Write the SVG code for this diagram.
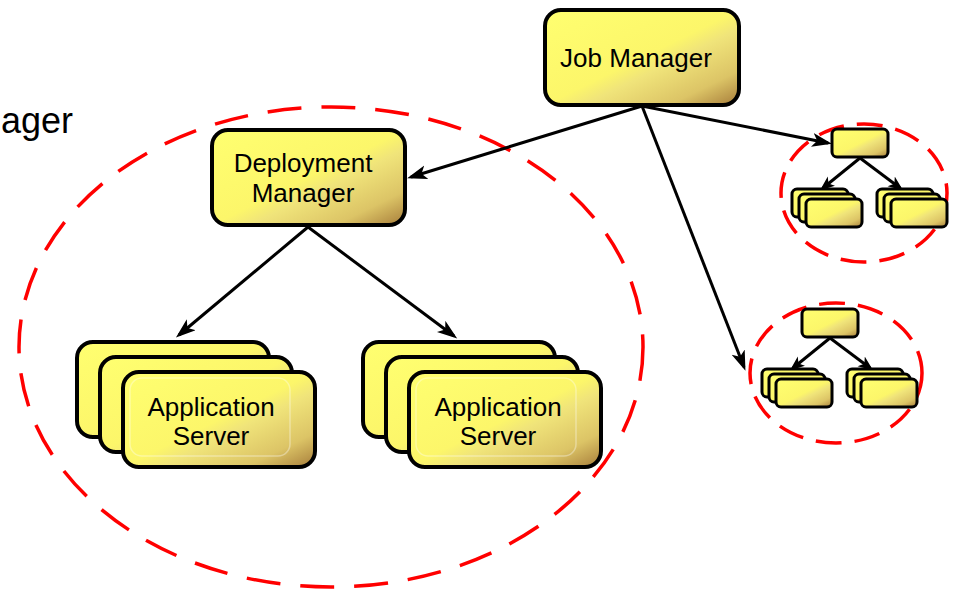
<svg xmlns="http://www.w3.org/2000/svg" width="961" height="589" viewBox="0 0 961 589">
<style>
.box{fill:url(#gold);stroke:#000;stroke-width:4}
.sbox{fill:url(#gold);stroke:#000;stroke-width:3}
.inner{fill:none;stroke:#fff;stroke-opacity:0.35;stroke-width:1.5}
.lbl{font-family:"Liberation Sans",Arial,sans-serif;font-size:26px;fill:#000;text-anchor:middle}
.edge{stroke:#000;stroke-width:3;fill:none;marker-end:url(#arr)}
.sedge{stroke:#000;stroke-width:3;fill:none;marker-end:url(#sarr)}
.ring{fill:none;stroke:#FF0000;stroke-width:3.5;stroke-dasharray:34 20}
.sring{fill:none;stroke:#FF0000;stroke-width:3.5;stroke-dasharray:26 13}
</style>
<defs>
<linearGradient id="gold" x1="0" y1="0" x2="1" y2="1">
<stop offset="0" stop-color="#FFFF70"/>
<stop offset="0.5" stop-color="#FCF66A"/>
<stop offset="0.6" stop-color="#F0E47A"/>
<stop offset="0.82" stop-color="#DCC466"/>
<stop offset="1" stop-color="#A67C3A"/>
</linearGradient>
<marker id="arr" markerUnits="userSpaceOnUse" markerWidth="22" markerHeight="16" refX="16" refY="7" orient="auto">
<path d="M0,0 L20,7 L0,14 L5,7 z" fill="#000"/>
</marker>
<marker id="sarr" markerUnits="userSpaceOnUse" markerWidth="16" markerHeight="14" refX="11" refY="6" orient="auto">
<path d="M0,0 L15,6 L0,12 L4,6 z" fill="#000"/>
</marker>
</defs>
<rect width="961" height="589" fill="#fff"/>
<text x="1" y="133" font-family="'Liberation Sans',Arial,sans-serif" font-size="36" fill="#000">ager</text>
<ellipse class="ring" cx="331" cy="347" rx="312" ry="240"/>
<g id="connectors">
<line class="edge" x1="642" y1="106" x2="411" y2="177"/>
<line class="edge" x1="642" y1="106" x2="828" y2="143"/>
<line class="edge" x1="642" y1="106" x2="744" y2="367"/>
<line class="edge" x1="308" y1="227" x2="179" y2="335"/>
<line class="edge" x1="308" y1="227" x2="454" y2="336"/>
</g>
<g id="job-manager">
<rect class="box" x="545" y="10" width="194" height="95" rx="16"/>
<text class="lbl" x="636" y="67">Job Manager</text>
</g>
<g id="deployment-manager">
<rect class="box" x="212" y="130" width="193" height="95" rx="16"/>
<text class="lbl" x="303" y="172">Deployment</text>
<text class="lbl" x="303" y="202">Manager</text>
</g>
<g id="app-server-1">
<rect class="box" x="77" y="342" width="192" height="95" rx="16"/>
<rect class="box" x="100" y="357" width="192" height="95" rx="16"/>
<rect class="box" x="123" y="372" width="192" height="95" rx="16"/>
<rect class="inner" x="130" y="378" width="160" height="78" rx="12"/>
<text class="lbl" x="211" y="416">Application</text>
<text class="lbl" x="211" y="445">Server</text>
</g>
<g id="app-server-2">
<rect class="box" x="363" y="342" width="192" height="95" rx="16"/>
<rect class="box" x="386" y="357" width="192" height="95" rx="16"/>
<rect class="box" x="409" y="372" width="192" height="95" rx="16"/>
<rect class="inner" x="416" y="378" width="160" height="78" rx="12"/>
<text class="lbl" x="498" y="416">Application</text>
<text class="lbl" x="498" y="445">Server</text>
</g>
<g id="cluster-1">
<ellipse class="sring" cx="864" cy="193" rx="83" ry="69"/>
<line class="sedge" x1="860" y1="158" x2="823" y2="188"/>
<line class="sedge" x1="860" y1="158" x2="900" y2="188"/>
<rect class="sbox" x="832" y="129" width="56" height="28" rx="5"/>
<rect class="sbox" x="792" y="189" width="56" height="28" rx="5"/>
<rect class="sbox" x="799" y="194" width="56" height="28" rx="5"/>
<rect class="sbox" x="806" y="199" width="56" height="28" rx="5"/>
<rect class="sbox" x="877" y="189" width="56" height="28" rx="5"/>
<rect class="sbox" x="884" y="194" width="56" height="28" rx="5"/>
<rect class="sbox" x="891" y="199" width="56" height="28" rx="5"/>
</g>
<g id="cluster-2" transform="translate(-30,180)">
<ellipse class="sring" cx="866" cy="193" rx="86" ry="70"/>
<line class="sedge" x1="860" y1="158" x2="823" y2="188"/>
<line class="sedge" x1="860" y1="158" x2="900" y2="188"/>
<rect class="sbox" x="832" y="129" width="56" height="28" rx="5"/>
<rect class="sbox" x="792" y="189" width="56" height="28" rx="5"/>
<rect class="sbox" x="799" y="194" width="56" height="28" rx="5"/>
<rect class="sbox" x="806" y="199" width="56" height="28" rx="5"/>
<rect class="sbox" x="877" y="189" width="56" height="28" rx="5"/>
<rect class="sbox" x="884" y="194" width="56" height="28" rx="5"/>
<rect class="sbox" x="891" y="199" width="56" height="28" rx="5"/>
</g>
</svg>
